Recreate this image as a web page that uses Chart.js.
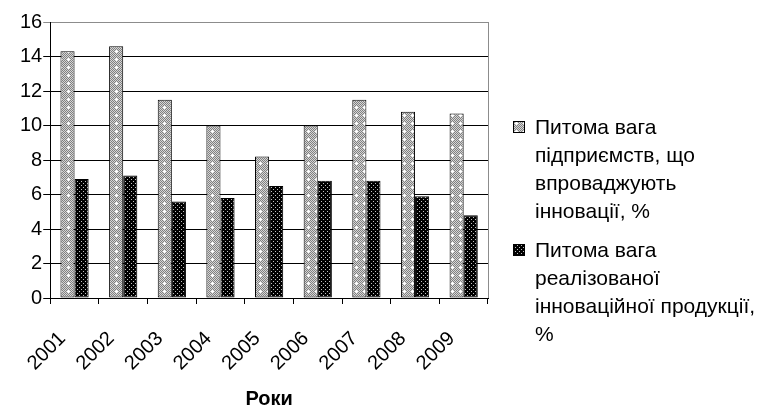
<!DOCTYPE html>
<html>
<head>
<meta charset="utf-8">
<script src="https://cdn.jsdelivr.net/npm/chart.js@4.4.0/dist/chart.umd.min.js"></script>
<style>
  html, body { margin: 0; padding: 0; background: #fff; }
  #wrap { width: 764px; height: 409px; }
</style>
</head>
<body>
<div id="wrap"><canvas id="myChart" width="764" height="409"></canvas></div>
<script>
var years = ['2001', '2002', '2003', '2004', '2005', '2006', '2007', '2008', '2009'];
var shareEnterprises = [14.3, 14.6, 11.5, 10.0, 8.2, 10.0, 11.5, 10.8, 10.7];
var shareProducts = [6.9, 7.1, 5.6, 5.8, 6.5, 6.8, 6.8, 5.9, 4.8];
var seriesNames = ['Питома вага підприємств, що впроваджують інновації, %',
                   'Питома вага реалізованої інноваційної продукції, %'];
var legendLines = [
  ['Питома вага', 'підприємств, що', 'впроваджують', 'інновації, %'],
  ['Питома вага', 'реалізованої', 'інноваційної продукції,', '%']
];
var yTicks = [0, 2, 4, 6, 8, 10, 12, 14, 16];
var axisTitle = 'Роки';

var FONT = '"Liberation Sans", Arial, sans-serif';

// fill patterns like the old excel ones
function makePattern(size, draw) {
  var c = document.createElement('canvas');
  c.width = size; c.height = size;
  var g = c.getContext('2d');
  draw(g);
  return g.createPattern(c, 'repeat');
}
var ctx = document.getElementById('myChart').getContext('2d');
var grayDots = makePattern(8, function(g){
  for (var x = 0; x < 8; x++) {
    for (var y = 0; y < 8; y++) {
      g.fillStyle = (x + y) % 2 ? '#d6d6d6' : '#808080';
      g.fillRect(x, y, 1, 1);
    }
  }
  g.fillStyle = '#fff';
  g.fillRect(3, 3, 3, 1);
  g.fillRect(4, 2, 1, 3);
});
var blackDots = makePattern(4, function(g){
  g.fillStyle = '#000';
  g.fillRect(0, 0, 4, 4);
  g.fillStyle = '#c0c0c0';
  g.fillRect(1, 1, 1, 1);
  g.fillRect(3, 3, 1, 1);
});
var fills = [grayDots, blackDots];

var frameAndLegend = {
  id: 'frameAndLegend',
  afterDraw: function(chart) {
    var c = chart.ctx, a = chart.chartArea;
    c.save();
    c.strokeStyle = '#8c8c8c';
    c.lineWidth = 1;
    c.beginPath();
    c.moveTo(a.right + 0.5, a.top);
    c.lineTo(a.right + 0.5, a.bottom);
    c.stroke();

    c.font = '21px ' + FONT;
    c.textBaseline = 'alphabetic';
    var bx = a.right + 25, by = 121;
    legendLines.forEach(function(lines, i){
      c.fillStyle = fills[i];
      c.fillRect(bx, by, 12, 12);
      c.strokeStyle = '#000';
      c.strokeRect(bx + 0.5, by + 0.5, 11, 11);
      c.fillStyle = '#000';
      lines.forEach(function(t, k){
        c.fillText(t, bx + 22, by + 13 + k * 28);
      });
      by += lines.length * 28 + 11;
    });
    c.restore();
  }
};

new Chart(ctx, {
  type: 'bar',
  data: {
    labels: years,
    datasets: [
      { label: seriesNames[0], data: shareEnterprises, backgroundColor: grayDots,
        borderColor: '#000', borderWidth: 1, borderSkipped: false },
      { label: seriesNames[1], data: shareProducts, backgroundColor: blackDots,
        borderColor: '#000', borderWidth: 1, borderSkipped: false }
    ]
  },
  options: {
    responsive: false,
    animation: false,
    layout: { padding: { left: 19, top: 22, right: 276, bottom: 0 } },
    datasets: { bar: { categoryPercentage: 0.58, barPercentage: 1 } },
    plugins: { legend: { display: false }, tooltip: { enabled: false } },
    scales: {
      x: {
        grid: { drawOnChartArea: false, color: '#000', tickLength: 6 },
        border: { color: '#000' },
        ticks: { color: '#000', minRotation: 45, maxRotation: 45, padding: 23, labelOffset: -12,
                 font: { family: FONT, size: 20 } },
        title: { display: true, text: axisTitle, color: '#000', padding: 0,
                 font: { family: FONT, size: 20, weight: 'bold', lineHeight: 1 } },
        afterFit: function(s) { s.height = 111; }
      },
      y: {
        min: 0, max: 16,
        afterBuildTicks: function(s) { s.ticks = yTicks.map(function(v){ return { value: v }; }); },
        grid: { color: function(c){ return c.tick && c.tick.value === 16 ? '#8c8c8c' : '#000'; }, tickLength: 7 },
        border: { color: '#000' },
        ticks: { color: '#000', padding: 1, font: { family: FONT, size: 20 } }
      }
    }
  },
  plugins: [frameAndLegend]
});
</script>
</body>
</html>
